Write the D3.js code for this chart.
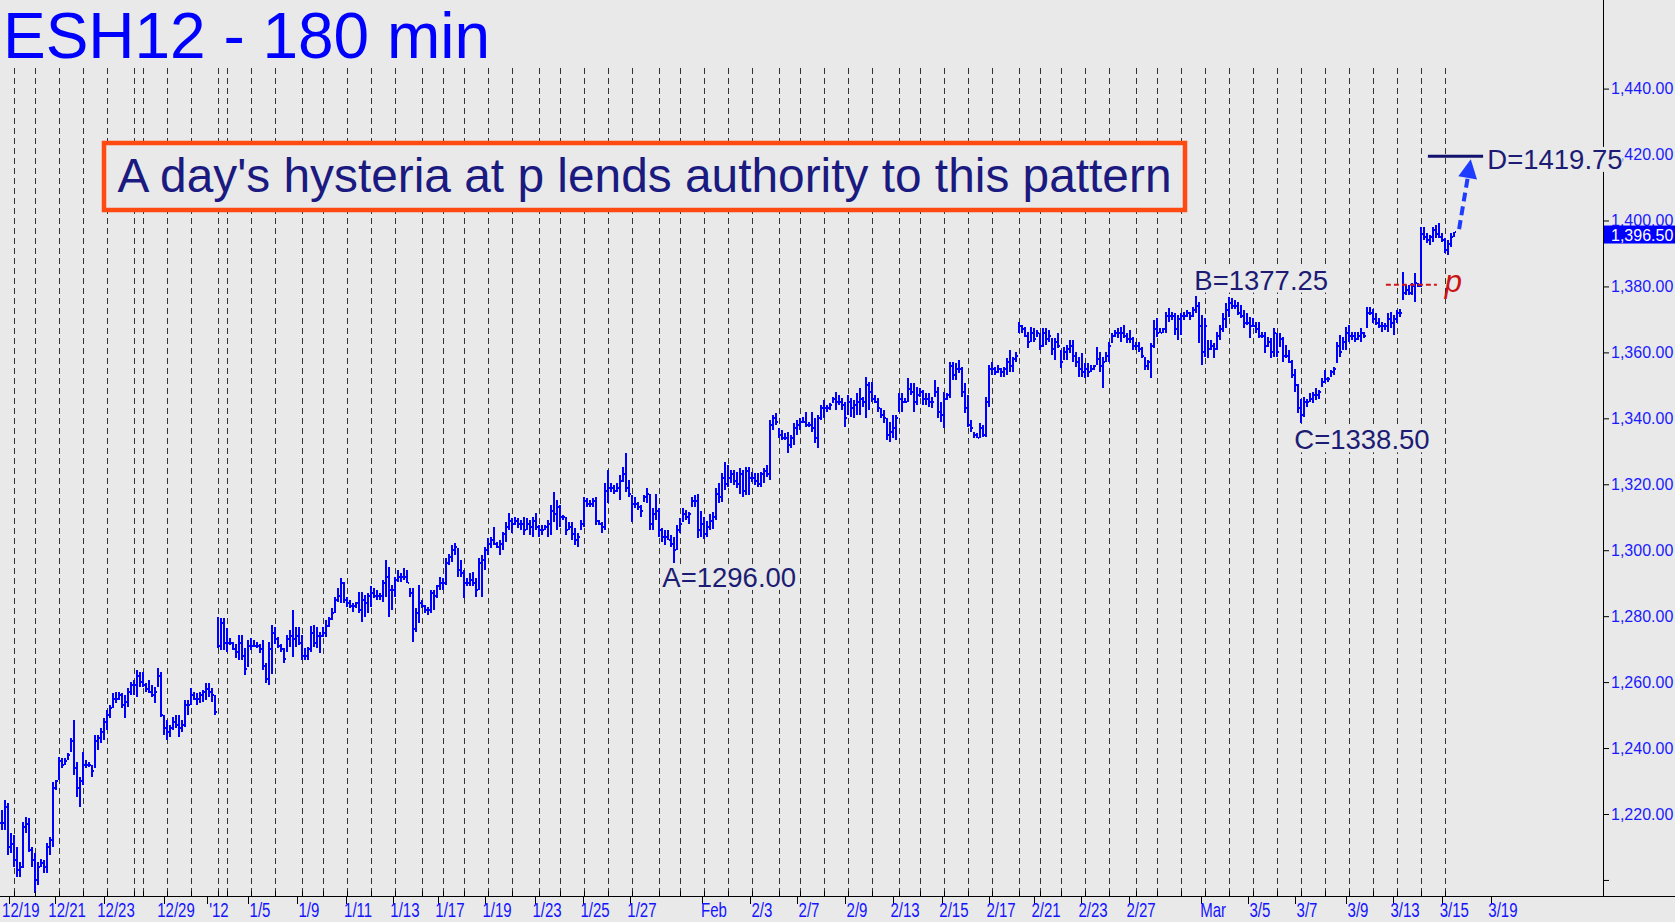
<!DOCTYPE html>
<html><head><meta charset="utf-8">
<script src="https://cdn.jsdelivr.net/npm/d3@7"></script>
<style>html,body{margin:0;padding:0;background:#e9e9e9;overflow:hidden}</style>
</head><body>
<svg id="chart" width="1675" height="922"></svg>
<script>
// ---------- DATA : [high, low, close] per 180-min bar ----------
const decBars = [
[1221.2,1215.1,1217.4],[1224.2,1215.1,1222],[1223.2,1207.5,1210],[1214.1,1208.1,1211],[1213.6,1204,1206],[1210.1,1201,1203],[1205.5,1201,1204],[1217.7,1203.5,1216],[1219.2,1214.1,1217],[1218.7,1208.6,1209],
[1210.1,1204,1206],[1208.1,1195.9,1200],[1205.5,1198.5,1204],[1206.5,1204,1205],[1206,1202,1204],[1211.1,1202,1210],[1213.1,1207.5,1212],[1229.8,1210.1,1228],[1230.3,1227.3,1230],[1237.4,1230.3,1236],
[1236.9,1233.8,1235],[1236.9,1234.8,1236],[1238.4,1236.4,1238],[1243,1238.9,1242],[1248.5,1231.8,1234],[1235.9,1225.2,1228],[1231.3,1222.2,1230],[1238.9,1228.8,1235],[1236.4,1233.8,1235],[1235.9,1234.3,1235],
[1234.8,1231.3,1233],[1244,1233.8,1242],[1244,1239.4,1243],[1246,1241.4,1245],[1249,1242.4,1248],[1251.5,1245.5,1250],[1253,1249,1252],[1256.6,1252,1255],[1257.1,1253.6,1255],[1257.1,1254.6,1256],
[1256.6,1252,1253],[1256.1,1249,1254],[1258.1,1252.5,1257],[1260.1,1256.1,1259],[1260.6,1256.1,1259],[1263.7,1255.6,1262],[1263.2,1258.6,1260],[1263.2,1258.6,1259],[1259.6,1257.1,1258],[1260.6,1256.6,1257],
[1259.1,1255.6,1256],[1258.6,1253.6,1257],[1264.2,1258.6,1262],[1263.2,1249.5,1250],[1250,1244,1246],[1248.5,1242.4,1245],[1247,1243.4,1246],[1249.5,1245.5,1248],[1250,1246,1247],[1250,1243.4,1246],
[1248.5,1245,1247],[1254.6,1246.5,1253],[1254.6,1250,1253],[1258.1,1253,1256],[1257.1,1254.6,1255],[1256.6,1253,1255],[1257.1,1253.6,1256],[1257.6,1254.1,1257],[1259.8,1254.6,1258],[1259.8,1255.6,1257],
[1258.1,1254.1,1256],[1256.1,1250,1251]
];
const janBarsA = [
[1279.8,1270.2,1271],[1279.3,1269.7,1278],[1279.3,1269.7,1272],[1276.3,1269.2,1272],[1273.3,1271.2,1272],[1272.2,1269.7,1270],[1271.7,1267.2,1269],[1274.3,1266.7,1272],[1274.3,1266.7,1268],[1270.2,1262.1,1264],
[1272.7,1264.7,1271],[1273.3,1269.7,1271],[1272.8,1270.7,1271],[1272.2,1270.2,1271],[1271.7,1268.7,1270],[1272.8,1263.7,1265],[1265.7,1259.6,1261],[1272.2,1259.1,1270],[1277.3,1262.6,1275],[1276.8,1271.7,1273],
[1273.8,1270.2,1271],[1271.7,1269.2,1270],[1270.2,1265.7,1267],[1274.3,1269.2,1273],[1275.8,1270.7,1274],[1281.9,1267.7,1273],[1276.8,1270.7,1274],[1276.8,1271.2,1272],[1274.3,1266.7,1268],[1270.2,1266.7,1268],
[1270.7,1266.7,1270],[1277,1269.2,1275],[1277.3,1270.7,1272],[1276.8,1270.2,1274],[1275.3,1268.7,1274],[1276.8,1273.8,1275],[1278.8,1273.8,1277],[1279.8,1276.8,1279],[1282.4,1278.8,1281],[1285.9,1280.9,1285],
[1288.4,1284.4,1286],[1291.5,1283.9,1290],[1290.5,1283.9,1285],[1285.9,1282.9,1284],[1284.9,1282.4,1283],[1283.9,1281.4,1283],[1284.4,1282.4,1284],[1287.4,1280.9,1282],[1287.4,1278.3,1285],[1286.4,1279.8,1284],
[1286.9,1280.9,1286],[1289.1,1282.9,1287],[1288.4,1285.4,1286],[1287.9,1284.9,1286],[1286.9,1284.9,1286],[1291.1,1284.4,1290],[1297,1285.9,1292],[1295,1279.8,1288],[1289.4,1281.9,1288],[1292,1285.9,1291],
[1294,1290.5,1292],[1293,1290.5,1292],[1294.5,1291,1292],[1294,1290,1290],[1288.4,1285.9,1287],[1288.4,1272.2,1276],[1282.4,1275.3,1281],[1289.4,1277.8,1284],[1284.9,1282.4,1283],[1283.4,1280.9,1282],
[1282.9,1280.3,1282],[1287.9,1280.9,1287],[1287.9,1281.9,1286],[1289.4,1285.4,1289],[1292,1287.9,1290],[1291.5,1288,1290],[1297.5,1289.4,1296],[1299,1295.5,1298]
];
const janBarsB = [
[1301.6,1296.5,1300],[1302.1,1298.5,1301],[1300.6,1292,1294],[1297,1292,1293],[1294,1285.4,1290],[1291.5,1289,1290],[1293,1289,1291],[1293.5,1289,1290],[1291.5,1285.9,1288],[1297.5,1287.9,1296],
[1298.5,1285.9,1297],[1301.1,1294,1300],[1303.6,1298.5,1302],[1304.1,1300.6,1303],[1307.1,1301.6,1302],[1302.6,1300.6,1301],[1303.1,1298.5,1302],[1305.6,1300,1305],[1308.6,1302.6,1307],[1311.2,1306.1,1309],
[1309.7,1305.1,1308],[1310.2,1307.6,1309],[1309.7,1306.6,1308],[1309.2,1306.1,1308],[1310.2,1304.6,1306],[1309.7,1306.1,1308],[1309.2,1304.6,1307],[1310.2,1304.1,1309],[1311.2,1306.1,1307],[1307.6,1304.1,1306],
[1307.6,1304.6,1306],[1307.6,1306.1,1307],[1309.2,1304.1,1308],[1313.7,1304.6,1312],[1317.7,1308.6,1311],[1315.2,1306.1,1313],[1313.7,1307.1,1310],[1310.7,1309.2,1310],[1310.2,1304.6,1306],[1308.6,1306.1,1307],
[1308.6,1303.1,1305],[1306.6,1301.6,1303],[1305.1,1301.1,1304],[1309.2,1306.1,1308],[1316.2,1307.1,1315],[1315.7,1313.2,1314],[1315.2,1313.2,1314],[1315.7,1313.2,1315],[1316.2,1307.6,1309],[1309.2,1307.6,1308],
[1308.6,1305.1,1307],[1320.3,1306.1,1318],[1324.3,1314.2,1319],[1320.3,1317.7,1319],[1319.8,1317.2,1318],[1320.3,1317.7,1319],[1322.8,1315.2,1321],[1325.3,1320.8,1323],[1329.4,1317.7,1319],[1321.3,1316.2,1317],
[1316.7,1308.6,1314],[1316.2,1312.7,1314],[1314.7,1312.2,1313],[1313.7,1310.2,1312],[1316.7,1314.7,1316],[1318.8,1314.2,1317],[1317.2,1306.1,1308],[1312.7,1306.1,1311],[1317.2,1309.2,1312],[1312.7,1304.1,1306],
[1306.6,1302.6,1304],[1306.1,1301.6,1304],[1306.1,1303.1,1303],[1304.6,1301.1,1302],[1304.1,1296,1300],[1307.6,1300,1306],[1309.7,1305.1,1308],[1312.7,1308.6,1311],[1312.2,1309.2,1310],[1311.7,1308.1,1311],
[1316.2,1313.2,1315],[1316.7,1313.2,1315],[1317.2,1303.6,1306],[1312,1304,1308],[1310,1303.5,1305],[1309,1304,1307],[1311,1306,1309],[1311.5,1306.5,1310]
];
const febBarsA = [
[1318.8,1309.2,1317],[1320.3,1314.2,1316],[1323.3,1314.7,1322],[1326.8,1318.2,1320],[1325.8,1319.3,1322],[1324.3,1320.3,1323],[1324.3,1319.8,1321],[1323.8,1318.8,1320],[1324.8,1317.2,1323],[1324.3,1316.2,1318],
[1325.3,1316.7,1324],[1325.3,1316.7,1322],[1323.8,1320.8,1322],[1323.3,1319.8,1321],[1323.3,1319.3,1320],[1323.8,1319.3,1323],[1324.8,1320.3,1324],[1325.8,1322.3,1323],[1339.5,1321.3,1338],[1341,1336.5,1340],
[1341.5,1338,1339],[1337,1333.9,1335],[1336.5,1333.4,1334],[1335.4,1333.4,1334],[1335.9,1329.4,1332],[1334.9,1330.9,1334],[1338.5,1331.9,1337],[1339.5,1334.9,1338],[1340,1336.5,1339],[1340.5,1338.5,1339],
[1342,1337.5,1338],[1339,1337.5,1338],[1342,1336,1337],[1340,1332.4,1334],[1341,1330.9,1340],[1344,1339.5,1343],[1345.5,1340,1343],[1344,1342,1343],[1344.5,1342.5,1344],[1346.6,1344.5,1346],
[1348.1,1342.5,1345],[1347.1,1344,1345],[1346.1,1342.5,1344],[1345,1337.5,1340],[1347.1,1341,1345],[1346.1,1340.5,1343],[1345.5,1340,1344],[1347.6,1341,1345],[1349.1,1341,1346],[1346.6,1343.5,1345],
[1352.6,1340,1350],[1351.1,1342.5,1348],[1351.1,1345,1346],[1347.1,1344.5,1345],[1346.1,1342,1343],[1343,1340,1341],[1342.5,1338.5,1340],[1340,1333.4,1335],[1339,1332.9,1336],[1341,1333.9,1337],
[1341,1333.4,1340],[1347.6,1342,1346],[1347.6,1342,1345],[1346.1,1344.5,1345],[1352.1,1345,1349],[1350.6,1347.1,1348],[1350.6,1342,1345],[1349.6,1344,1347],[1349.1,1346.6,1348],[1348.6,1344,1346],
[1347.6,1344,1346],[1347.6,1343.5,1345],[1346.6,1343,1345],[1351.6,1346.6,1348],[1349.6,1340,1342],[1345,1339,1341],[1348.1,1337,1346],[1347.6,1345.5,1347],[1357.2,1346.1,1356],[1357.2,1351.6,1353],
[1356.7,1351.6,1355],[1357.7,1353.6,1355]
];
const febBarsB = [
[1355.7,1346.6,1348],[1350.6,1341.5,1343],[1347.1,1337.5,1338],[1339.5,1336,1337],[1336,1333.9,1335],[1335.4,1333.9,1334],[1338.5,1333.9,1337],[1338,1334.4,1335],[1346.6,1334.4,1345],[1356.2,1343.5,1355],
[1357.2,1353.1,1355],[1355.7,1353.1,1354],[1356.2,1353.6,1355],[1355.2,1352.6,1354],[1355.7,1352.6,1355],[1358.2,1353.1,1357],[1360.7,1354.1,1356],[1358.7,1354.1,1358],[1360.2,1357.2,1359],[1369.3,1365.8,1368],
[1368.3,1365.8,1367],[1367.8,1364.8,1365],[1366.3,1361.2,1363],[1367.8,1363.2,1366],[1367.3,1363.2,1364],[1366.8,1364.8,1366],[1365.8,1360.7,1362],[1367.3,1361.7,1366],[1367.3,1362.2,1364],[1366.8,1363.2,1365],
[1364.3,1359.2,1361],[1364.3,1357.7,1363],[1365.8,1361.2,1362],[1360.7,1355.2,1357],[1361.7,1357.7,1360],[1362.2,1357.7,1361],[1363.7,1359.7,1362],[1363.7,1357.2,1359],[1360.2,1355.7,1357],[1358.7,1352.6,1355],
[1359.7,1352.6,1354],[1356.7,1352.1,1355],[1356.7,1352.6,1354],[1356.2,1354.1,1355],[1356.2,1354.6,1356],[1361.7,1356.2,1358],[1360.2,1354.1,1356],[1358.7,1349.1,1357],[1360.2,1357.2,1359],[1363.2,1357.2,1362],
[1365.8,1362.7,1365],[1366.8,1364.8,1366],[1367.3,1364.3,1366],[1367.8,1363.2,1366],[1368.3,1364.3,1365],[1365.8,1362.7,1364],[1366.8,1362.7,1364],[1364.8,1360.7,1362],[1363.2,1360.7,1362],[1363.2,1360.2,1361],
[1361.7,1358.2,1359],[1358.7,1354.6,1356],[1357.7,1354.6,1357],[1362.7,1352.1,1362],[1369.8,1361.2,1367],[1370.3,1364.8,1366],[1367.3,1365.8,1366],[1367.3,1365.8,1367],[1372.3,1365.8,1371],[1373.4,1369.3,1371],
[1372.3,1369.8,1371],[1371.8,1365.3,1367],[1371.3,1363.7,1370],[1371.8,1365.3,1371],[1372.3,1369.8,1371],[1372.8,1370.8,1372],[1372.3,1369.8,1371],[1373.9,1370.8,1373],[1377.25,1372,1374],[1375.4,1362.7,1368]
];
const marBars = [
[1371.3,1356.2,1360],[1370.3,1358.7,1368],[1363.7,1358.2,1361],[1363.7,1360.7,1362],[1362.7,1358.2,1361],[1366.3,1360.7,1365],[1368.3,1363.7,1367],[1371.8,1366.3,1370],[1374.9,1367.3,1373],[1376.9,1370.8,1375],
[1376.4,1373.3,1374],[1375.9,1373.3,1374],[1375.4,1371.3,1372],[1374.4,1370.3,1371],[1372.8,1367.3,1369],[1371.8,1368.3,1369],[1370.8,1364.3,1368],[1370.3,1367.8,1368],[1369.3,1365.8,1367],[1369.3,1364.3,1365],
[1366.3,1364.3,1365],[1366.3,1359.7,1362],[1364.8,1361.7,1363],[1364.3,1358.2,1360],[1367.3,1358.7,1366],[1365.8,1358.7,1360],[1365.8,1361.7,1364],[1364.8,1357.2,1359],[1362.2,1358.2,1359],[1360.7,1356.7,1357],
[1357.6,1352.1,1353],[1355.1,1348.1,1350],[1350.5,1341.5,1343],[1346,1338.5,1341],[1346.5,1340.5,1345],[1346,1343.5,1345],[1347.6,1345,1346],[1348.1,1344.5,1347],[1349.1,1345.5,1347],[1348.6,1346,1348],
[1352.1,1349.6,1351],[1354.6,1350.6,1352],[1352.6,1351.1,1352],[1354.6,1352.6,1354],[1355.7,1353.1,1355],[1363.2,1356.7,1362],[1365.3,1358.7,1360],[1364.8,1360.7,1363],[1367.8,1360.7,1366],[1368.3,1363.2,1365],
[1366.3,1363.7,1365],[1366.3,1363.2,1364],[1366.3,1363.7,1365],[1367.3,1363.2,1366],[1366.3,1364.3,1365],[1373.9,1367.3,1372],[1373.9,1371.3,1372],[1373.3,1368.8,1370],[1371.8,1368.3,1369],[1370.3,1367.3,1368],
[1369.3,1366.3,1368],[1368.8,1366.8,1368],[1371.8,1366.3,1370],[1372.3,1367.3,1369],[1371.3,1365.3,1370],[1372.8,1368.8,1372],[1373.3,1370.8,1372],[1384.5,1375.9,1378],[1380.4,1377.4,1379],[1380.4,1377.4,1378],
[1380.9,1377.4,1380],[1384,1375.4,1381],[1380.9,1379.9,1380],[1398.1,1379.9,1396],[1398.1,1394.1,1395],[1396.1,1393.1,1394],[1395.6,1392.6,1395],[1398.1,1393.6,1397],[1398.6,1394.6,1396],[1399.1,1394.6,1395],
[1396.1,1393.6,1394],[1394.6,1390,1391],[1394.1,1389.5,1393],[1396.1,1392.1,1395],[1396.6,1395.1,1396.5]
];
// bar index where each session begins (dashed separators)
const sessionStarts = [4,11,19,27,35,44,47,55,63,72,75,83,91,100,107,115,123,131,140,147,154,162,170,179,186,194,202,210,219,226,234,242,250,259,266,274,282,290,299,306,314,322,330,339,346,353,361,369,378,385,393,401,409,417,425,433,441,449,457,465,473,481];
// date labels and their position in bar units
const dateLabels = ["12/19","12/21","12/23","12/29","'12","1/5","1/9","1/11","1/13","1/17","1/19","1/23","1/25","1/27","Feb","2/3","2/7","2/9","2/13","2/15","2/17","2/21","2/23","2/27","Mar","3/5","3/7","3/9","3/13","3/15","3/19"];
const dateLabelPos = [6.2,21.6,37.9,57.9,72.2,85.9,102.2,118.6,134.2,149.2,164.9,181.6,197.6,213.2,237.2,253.2,268.9,284.9,300.9,317.2,332.9,347.9,363.6,379.6,403.6,419.2,434.9,451.9,467.6,484,500.2];
const yTicks = [1200,1220,1240,1260,1280,1300,1320,1340,1360,1380,1400,1420,1440];
const lastPrice = 1396.50;
const pivotNames = ["A","B","C","D"];
const pivotValues = [1296.00,1377.25,1338.50,1419.75];
const pivotBars = [224,398,433,475];
const pLevel = 1380.5;
const arrowFrom = [485.6,1397.4], arrowTo = [489.5,1418.6];
const titleText = "ESH12 - 180 min";
const noteText = "A day's hysteria at p lends authority to this pattern";

// ---------- DRAW ----------
const W = 1675, H = 922, BG = "#e9e9e9";
const plotBottom = 896, axisX = 1603;
const svg = d3.select("#chart");
svg.append("rect").attr("width", W).attr("height", H).attr("fill", BG);

const bars = [].concat(decBars, janBarsA, janBarsB, febBarsA, febBarsB, marBars);
const x = d3.scaleLinear().domain([0, 100]).range([2.3, 302.3]);
const y = d3.scaleLinear().domain([1220, 1440]).range([814, 88.6]);

// session separators
svg.append("g").selectAll("line").data(sessionStarts).join("line")
  .attr("x1", d => Math.round(x(d)) + 0.5).attr("x2", d => Math.round(x(d)) + 0.5)
  .attr("y1", 68).attr("y2", plotBottom)
  .attr("stroke", "#333").attr("stroke-width", 1).attr("stroke-dasharray", "6,4");

// OHLC bars
const gb = svg.append("g").attr("fill", "#0000ff").attr("shape-rendering", "crispEdges");
gb.selectAll("rect.hl").data(bars).join("rect").attr("class", "hl")
  .attr("x", (d, i) => Math.round(x(i)) - 1).attr("width", 2)
  .attr("y", d => y(d[0])).attr("height", d => Math.max(2, y(d[1]) - y(d[0])));
gb.selectAll("rect.op").data(bars).join("rect").attr("class", "op")
  .attr("x", (d, i) => Math.round(x(i)) - 2).attr("width", 1)
  .attr("y", (d, i) => y(i > 0 ? bars[i - 1][2] : d[2]) - 1).attr("height", 2);
gb.selectAll("rect.cl").data(bars).join("rect").attr("class", "cl")
  .attr("x", (d, i) => Math.round(x(i)) + 1).attr("width", 1)
  .attr("y", d => y(d[2]) - 1).attr("height", 2);

// x axis line + ticks
svg.append("line").attr("x1", 0).attr("x2", W).attr("y1", plotBottom + 0.5).attr("y2", plotBottom + 0.5)
  .attr("stroke", "#000").attr("stroke-width", 1);
svg.append("g").selectAll("line").data(sessionStarts).join("line")
  .attr("x1", d => Math.round(x(d)) + 0.5).attr("x2", d => Math.round(x(d)) + 0.5)
  .attr("y1", plotBottom - 5).attr("y2", plotBottom).attr("stroke", "#000");
svg.append("g").selectAll("line").data(dateLabelPos).join("line")
  .attr("x1", d => Math.round(x(d - 4)) + 0.5).attr("x2", d => Math.round(x(d - 4)) + 0.5)
  .attr("y1", plotBottom).attr("y2", plotBottom + 8).attr("stroke", "#000");
svg.append("g").selectAll("text").data(dateLabels).join("text")
  .attr("transform", (d, i) => `translate(${x(dateLabelPos[i])},916.5) scale(0.77,1)`)
  .attr("text-anchor", "middle").attr("font-family", "Liberation Sans, Arial, sans-serif")
  .attr("font-size", 19.5).attr("fill", "#1414ff").text(d => d);

// y axis
svg.append("line").attr("x1", axisX + 0.5).attr("x2", axisX + 0.5).attr("y1", 0).attr("y2", plotBottom)
  .attr("stroke", "#000");
const yAxis = d3.axisRight(y).tickValues(yTicks).tickSize(6).tickPadding(2)
  .tickFormat(d => d === 1200 ? "" : d3.format(",.2f")(d));
const gy = svg.append("g").attr("transform", `translate(${axisX},0)`).call(yAxis);
gy.select(".domain").remove();
gy.selectAll("line").attr("stroke", "#000");
gy.selectAll("text").attr("font-family", "Liberation Sans, Arial, sans-serif").attr("font-size", 16)
  .attr("fill", "#1a1aff");

// last price tag
const ty = y(lastPrice) + 2.5;
svg.append("rect").attr("x", axisX + 1).attr("y", ty - 9).attr("width", W - axisX).attr("height", 18).attr("fill", "#0000ff");
svg.append("text").attr("x", axisX + 8).attr("y", ty + 6).attr("fill", "#fff")
  .attr("font-family", "Liberation Sans, Arial, sans-serif").attr("font-size", 16).text(d3.format(",.2f")(lastPrice));

// title
svg.append("text").attr("x", 3).attr("y", 58).attr("fill", "#0000ff")
  .attr("font-family", "Liberation Sans, Arial, sans-serif").attr("font-size", 65)
  .attr("textLength", 487).attr("lengthAdjust", "spacingAndGlyphs").text(titleText);

// note box
svg.append("rect").attr("x", 104).attr("y", 143).attr("width", 1081).attr("height", 67)
  .attr("fill", BG).attr("stroke", "#ff4a12").attr("stroke-width", 4.5);
svg.append("text").attr("x", 117.5).attr("y", 192).attr("fill", "#1a1a80")
  .attr("font-family", "Liberation Sans, Arial, sans-serif").attr("font-size", 48)
  .attr("textLength", 1054).attr("lengthAdjust", "spacingAndGlyphs").text(noteText);

// pivot labels (drawn on a background patch, like the original annotations)
const navy = "#1c1c74";
const fmt = d3.format(".2f");
const pivotOffsets = [[-12, 23.5], [-2, -6], [-7, 26], [60, 13.5]];
pivotNames.forEach((n, i) => {
  const px = x(pivotBars[i]) + pivotOffsets[i][0];
  const py = y(pivotValues[i]) + pivotOffsets[i][1];
  const bgR = svg.append("rect").attr("fill", BG);
  const t = svg.append("text").attr("x", px).attr("y", py).attr("fill", navy)
    .attr("font-family", "Liberation Sans, Arial, sans-serif").attr("font-size", 27.5)
    .text(n + "=" + fmt(pivotValues[i]));
  const bb = t.node().getBBox();
  bgR.attr("x", bb.x).attr("y", bb.y + 3).attr("width", bb.width).attr("height", bb.height - 6);
});
// D target line
svg.append("line").attr("x1", x(475.2)).attr("x2", x(493.6)).attr("y1", y(1419.75) + 1).attr("y2", y(1419.75) + 1)
  .attr("stroke", "#12126e").attr("stroke-width", 3);

// dashed projection arrow
const ax0 = x(arrowFrom[0]), ay0 = y(arrowFrom[1]), ax1 = x(arrowTo[0]), ay1 = y(arrowTo[1]);
const ang = Math.atan2(ay1 - ay0, ax1 - ax0);
const hl = 19, hw = 9.5;
const bx = ax1 - hl * Math.cos(ang), by = ay1 - hl * Math.sin(ang);
svg.append("line").attr("x1", ax0).attr("y1", ay0).attr("x2", bx).attr("y2", by)
  .attr("stroke", "#1e3cff").attr("stroke-width", 4).attr("stroke-dasharray", "9,5");
svg.append("path").attr("fill", "#1e3cff")
  .attr("d", `M${ax1},${ay1} L${bx + hw * Math.sin(ang)},${by - hw * Math.cos(ang)} L${bx - hw * Math.sin(ang)},${by + hw * Math.cos(ang)} Z`);

// p level
svg.append("line").attr("x1", x(461.2)).attr("x2", x(478.2)).attr("y1", y(pLevel)).attr("y2", y(pLevel))
  .attr("stroke", "#d01818").attr("stroke-width", 2).attr("stroke-dasharray", "5,3");
svg.append("text").attr("x", x(480.8)).attr("y", y(pLevel) + 7).attr("fill", "#cc1414")
  .attr("font-family", "Liberation Sans, Arial, sans-serif").attr("font-style", "italic").attr("font-size", 31).text("p");
</script>
</body></html>
